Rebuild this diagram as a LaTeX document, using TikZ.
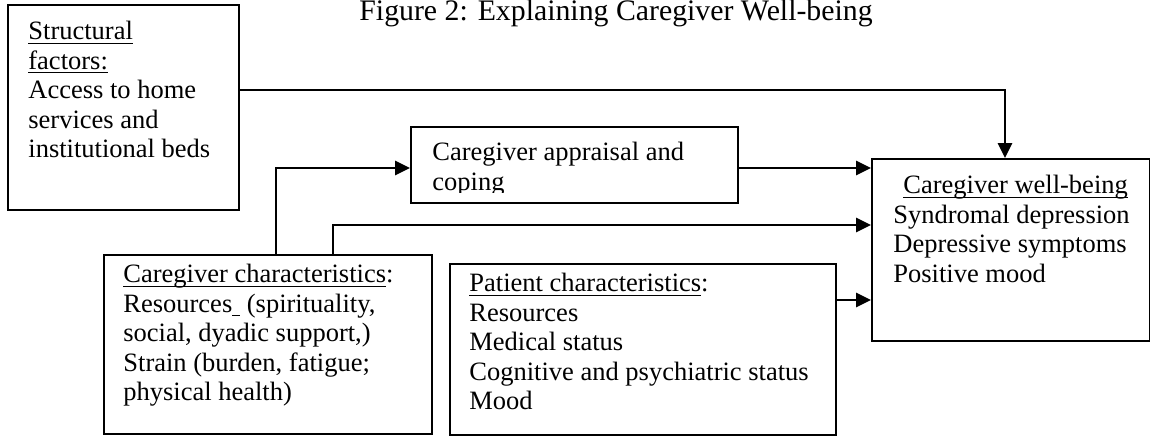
\documentclass[tikz,border=0pt]{standalone}
\usepackage{fontspec}
\setmainfont{Liberation Serif}
\usetikzlibrary{arrows.meta}
\newsavebox{\myulbox}
\newcommand{\myul}[1]{\sbox{\myulbox}{#1}\rlap{\rule[-2.2pt]{\wd\myulbox}{0.6pt}}\usebox{\myulbox}}
\newcommand{\ulsp}{\rlap{\rule[-2.2pt]{0.3em}{0.6pt}}\hspace{0.3em}}
\begin{document}
\begin{tikzpicture}[x=0.5pt,y=-0.5pt,
  boxst/.style={draw,line width=1pt,rectangle,inner sep=0pt,anchor=north west},
  txt/.style={anchor=north west,inner sep=0pt,align=left,font=\fontsize{13.25}{14.8}\selectfont},
  arr/.style={line width=1pt,-{Triangle[length=7.5pt,width=7.2pt]}}]
\useasboundingbox (0,0) rectangle (1150,436);
% title
\node[anchor=base,inner sep=0pt,font=\fontsize{14.9}{17}\selectfont] (title) at (616,20.5) {Figure 2: Explaining Caregiver Well-being};
% boxes
\node[boxst,minimum width=115.5pt,minimum height=102.5pt] (struct) at (7,4) {};
\node[boxst,minimum width=163.5pt,minimum height=38pt] (ap) at (410,126) {};
\node[boxst,minimum width=139pt,minimum height=91pt] (wb) at (871,158) {};
\node[boxst,minimum width=164pt,minimum height=89.5pt] (cg) at (103,254) {};
\node[boxst,minimum width=193pt,minimum height=85.5pt] (pt) at (449,263) {};
% texts (north = first baseline - 0.7*14.8pt)
\node[txt] (structtxt) at (28,18.3) {\strut\myul{Structural}\\\myul{factors:}\\Access to home\\services and\\institutional beds};
\begin{scope}
\clip (410,126) rectangle (737,192);
\node[txt] (aptxt) at (432,139.3) {\strut Caregiver appraisal and\\coping};
\end{scope}
\node[txt] (wbtxt) at (893,172.3) {\strut\hspace*{5pt}\myul{Caregiver well-being}\\Syndromal depression\\Depressive symptoms\\Positive mood};
\node[txt] (cgtxt) at (123,261.3) {\strut\myul{Caregiver characteristics}:\\Resources\ulsp\ (spirituality,\\social, dyadic support,)\\Strain (burden, fatigue;\\physical health)};
\node[txt] (pttxt) at (469,270.3) {\strut\myul{Patient characteristics}:\\Resources\\Medical status\\Cognitive and psychiatric status\\Mood};
% bend points
\coordinate (bendA) at (1005,90);
\coordinate (bendB) at (276,168);
\coordinate (bendC) at (333,225);
\coordinate (rowP) at (0,300);
% connectors
\draw[arr] (struct.east |- bendA) -- (bendA) -- (wb.north -| bendA);
\draw[arr] (cg.north -| bendB) -- (bendB) -- (ap.west |- bendB);
\draw[arr] (ap.east |- bendB) -- (wb.west |- bendB);
\draw[arr] (cg.north -| bendC) -- (bendC) -- (wb.west |- bendC);
\draw[arr] (pt.east |- rowP) -- (wb.west |- rowP);
\end{tikzpicture}
\end{document}
